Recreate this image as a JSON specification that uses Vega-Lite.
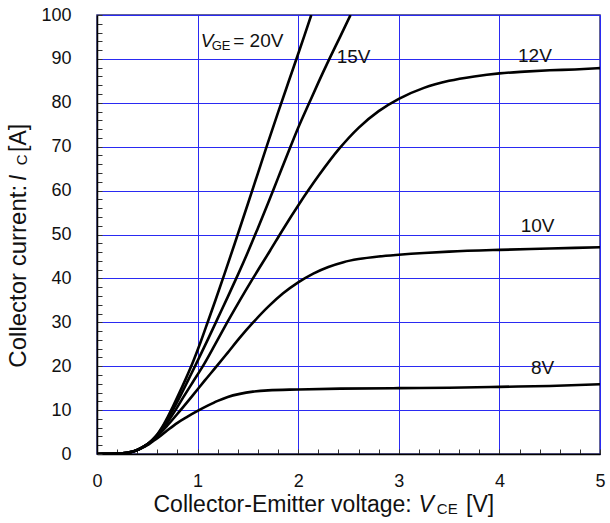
{
  "$schema": "https://vega.github.io/schema/vega-lite/v6.json",
  "width": 503,
  "height": 439,
  "autosize": {"type": "none"},
  "padding": {"left": 97, "top": 15, "right": 10, "bottom": 69},
  "background": "white",
  "config": {
    "font": "Liberation Sans",
    "view": {"stroke": "#2e2e78", "strokeWidth": 1.5},
    "text": {"font": "Liberation Sans", "color": "#111111"}
  },
  "resolve": {"axis": {"x": "independent", "y": "independent"}},
  "layer": [
    {
      "data": {"values": [
        {"g":"20V","v":0,"i":0},{"g":"20V","v":0.1,"i":0.05},{"g":"20V","v":0.2,"i":0.1},{"g":"20V","v":0.3,"i":0.3},{"g":"20V","v":0.35,"i":0.5},{"g":"20V","v":0.4,"i":0.9},{"g":"20V","v":0.45,"i":1.5},{"g":"20V","v":0.5,"i":2.2},{"g":"20V","v":0.55,"i":3.2},
        {"g":"20V","v":0.6,"i":4.5},{"g":"20V","v":0.65,"i":6.2},{"g":"20V","v":0.7,"i":8.3},{"g":"20V","v":0.75,"i":10.6},{"g":"20V","v":0.8,"i":13.0},{"g":"20V","v":0.88,"i":17.0},{"g":"20V","v":0.96,"i":21.3},{"g":"20V","v":1.03,"i":25.5},{"g":"20V","v":1.1,"i":30},{"g":"20V","v":1.18,"i":35.2},{"g":"20V","v":1.27,"i":41.2},{"g":"20V","v":1.37,"i":48},{"g":"20V","v":1.5,"i":57},{"g":"20V","v":1.6,"i":64},{"g":"20V","v":1.69,"i":70.3},{"g":"20V","v":1.8,"i":77.8},{"g":"20V","v":1.9,"i":84.5},{"g":"20V","v":1.99,"i":90.5},{"g":"20V","v":2.06,"i":95.2},{"g":"20V","v":2.13,"i":100},
        {"g":"15V","v":0,"i":0},{"g":"15V","v":0.1,"i":0.05},{"g":"15V","v":0.2,"i":0.1},{"g":"15V","v":0.3,"i":0.3},{"g":"15V","v":0.35,"i":0.5},{"g":"15V","v":0.4,"i":0.9},{"g":"15V","v":0.45,"i":1.5},{"g":"15V","v":0.5,"i":2.2},{"g":"15V","v":0.55,"i":3.2},
        {"g":"15V","v":0.6,"i":4.4},{"g":"15V","v":0.65,"i":6.0},{"g":"15V","v":0.7,"i":7.9},{"g":"15V","v":0.76,"i":10.3},{"g":"15V","v":0.83,"i":13.3},{"g":"15V","v":0.91,"i":17.0},{"g":"15V","v":1.0,"i":21.2},{"g":"15V","v":1.1,"i":26},{"g":"15V","v":1.2,"i":30.9},{"g":"15V","v":1.3,"i":35.8},{"g":"15V","v":1.4,"i":40.8},{"g":"15V","v":1.5,"i":46},{"g":"15V","v":1.6,"i":51.5},{"g":"15V","v":1.7,"i":57.1},{"g":"15V","v":1.8,"i":62.9},{"g":"15V","v":1.92,"i":69.8},{"g":"15V","v":2.0,"i":74.3},{"g":"15V","v":2.11,"i":80},{"g":"15V","v":2.2,"i":84.6},{"g":"15V","v":2.31,"i":90},{"g":"15V","v":2.42,"i":95.2},{"g":"15V","v":2.52,"i":100},
        {"g":"12V","v":0,"i":0},{"g":"12V","v":0.1,"i":0.05},{"g":"12V","v":0.2,"i":0.1},{"g":"12V","v":0.3,"i":0.3},{"g":"12V","v":0.35,"i":0.5},{"g":"12V","v":0.4,"i":0.9},{"g":"12V","v":0.45,"i":1.5},{"g":"12V","v":0.5,"i":2.2},{"g":"12V","v":0.55,"i":3.1},
        {"g":"12V","v":0.6,"i":4.2},{"g":"12V","v":0.65,"i":5.6},{"g":"12V","v":0.7,"i":7.2},{"g":"12V","v":0.78,"i":10},{"g":"12V","v":0.86,"i":13},{"g":"12V","v":0.95,"i":16.3},{"g":"12V","v":1.06,"i":20.3},{"g":"12V","v":1.17,"i":24.8},{"g":"12V","v":1.29,"i":29.8},{"g":"12V","v":1.42,"i":35},{"g":"12V","v":1.55,"i":40},{"g":"12V","v":1.72,"i":46.3},{"g":"12V","v":1.85,"i":51.2},{"g":"12V","v":2.0,"i":56.6},{"g":"12V","v":2.2,"i":63.3},{"g":"12V","v":2.41,"i":69.6},{"g":"12V","v":2.6,"i":74.3},{"g":"12V","v":2.8,"i":78.1},{"g":"12V","v":3.0,"i":80.9},{"g":"12V","v":3.25,"i":83.4},{"g":"12V","v":3.5,"i":85.0},{"g":"12V","v":3.75,"i":86.0},{"g":"12V","v":4.0,"i":86.7},{"g":"12V","v":4.25,"i":87.1},{"g":"12V","v":4.5,"i":87.4},{"g":"12V","v":4.75,"i":87.6},{"g":"12V","v":5.0,"i":87.9},
        {"g":"10V","v":0,"i":0},{"g":"10V","v":0.1,"i":0.05},{"g":"10V","v":0.2,"i":0.1},{"g":"10V","v":0.3,"i":0.3},{"g":"10V","v":0.35,"i":0.5},{"g":"10V","v":0.4,"i":0.9},{"g":"10V","v":0.45,"i":1.5},{"g":"10V","v":0.5,"i":2.2},{"g":"10V","v":0.55,"i":3.1},
        {"g":"10V","v":0.6,"i":4.1},{"g":"10V","v":0.7,"i":6.5},{"g":"10V","v":0.82,"i":9.7},{"g":"10V","v":0.95,"i":13.3},{"g":"10V","v":1.07,"i":16.7},{"g":"10V","v":1.19,"i":20},{"g":"10V","v":1.3,"i":23.1},{"g":"10V","v":1.42,"i":26.5},{"g":"10V","v":1.55,"i":29.9},{"g":"10V","v":1.7,"i":33.5},{"g":"10V","v":1.85,"i":36.6},{"g":"10V","v":2.0,"i":39.1},{"g":"10V","v":2.15,"i":41.1},{"g":"10V","v":2.3,"i":42.6},{"g":"10V","v":2.45,"i":43.7},{"g":"10V","v":2.6,"i":44.4},{"g":"10V","v":2.8,"i":45.0},{"g":"10V","v":3.0,"i":45.4},{"g":"10V","v":3.25,"i":45.8},{"g":"10V","v":3.5,"i":46.1},{"g":"10V","v":4.0,"i":46.5},{"g":"10V","v":4.5,"i":46.8},{"g":"10V","v":5.0,"i":47.1},
        {"g":"8V","v":0,"i":0},{"g":"8V","v":0.1,"i":0.05},{"g":"8V","v":0.2,"i":0.1},{"g":"8V","v":0.3,"i":0.3},{"g":"8V","v":0.35,"i":0.5},{"g":"8V","v":0.4,"i":0.9},{"g":"8V","v":0.45,"i":1.4},{"g":"8V","v":0.5,"i":2.0},{"g":"8V","v":0.55,"i":2.8},
        {"g":"8V","v":0.6,"i":3.6},{"g":"8V","v":0.7,"i":5.4},{"g":"8V","v":0.8,"i":7.1},{"g":"8V","v":0.9,"i":8.5},{"g":"8V","v":1.0,"i":9.8},{"g":"8V","v":1.1,"i":11},{"g":"8V","v":1.2,"i":12.1},{"g":"8V","v":1.3,"i":13},{"g":"8V","v":1.42,"i":13.7},{"g":"8V","v":1.55,"i":14.2},{"g":"8V","v":1.7,"i":14.5},{"g":"8V","v":2.0,"i":14.7},{"g":"8V","v":2.42,"i":14.9},{"g":"8V","v":3.0,"i":15.0},{"g":"8V","v":3.5,"i":15.1},{"g":"8V","v":4.0,"i":15.3},{"g":"8V","v":4.5,"i":15.5},{"g":"8V","v":5.0,"i":15.9}
      ]},
      "mark": {"type": "line", "color": "black", "strokeWidth": 2.6, "clip": true, "interpolate": "monotone"},
      "encoding": {
        "x": {"field": "v", "type": "quantitative", "scale": {"domain": [0, 5], "nice": false},
          "axis": {"orient": "bottom", "values": [0,0.2,0.4,0.6,0.8,1,1.2,1.4,1.6,1.8,2,2.2,2.4,2.6,2.8,3,3.2,3.4,3.6,3.8,4,4.2,4.4,4.6,4.8,5],
            "title": null, "labelExpr": "datum.value % 1 === 0 ? '' + datum.value : ''", "labelOverlap": false, "labelFlush": false, "labelBound": false,
            "labelPadding": 23, "labelFontSize": 18, "labelColor": "#111111", "labelFont": "Liberation Sans",
            "ticks": true, "tickSize": -5, "tickColor": "#333333", "tickWidth": 1,
            "grid": true, "gridColor": {"condition": {"test": "datum.value % 1 === 0", "value": "#2a2af2"}, "value": "transparent"}, "gridWidth": 1, "gridOpacity": 1,
            "domainColor": "#000000", "domainWidth": 1.5}},
        "y": {"field": "i", "type": "quantitative", "scale": {"domain": [0, 100], "nice": false},
          "axis": {"orient": "left", "values": [0,2,4,6,8,10,12,14,16,18,20,22,24,26,28,30,32,34,36,38,40,42,44,46,48,50,52,54,56,58,60,62,64,66,68,70,72,74,76,78,80,82,84,86,88,90,92,94,96,98,100],
            "title": null, "labelExpr": "datum.value % 10 === 0 ? '' + datum.value : ''", "labelOverlap": false, "labelFlush": false, "labelBound": false,
            "labelPadding": 31, "labelFontSize": 18, "labelColor": "#111111", "labelFont": "Liberation Sans",
            "ticks": true, "tickSize": -5, "tickColor": "#333333", "tickWidth": 1,
            "grid": true, "gridColor": {"condition": {"test": "datum.value % 10 === 0", "value": "#2a2af2"}, "value": "transparent"}, "gridWidth": 1, "gridOpacity": 1,
            "domainColor": "#000000", "domainWidth": 1.5}},
        "detail": {"field": "g", "type": "nominal"}
      }
    },
    {
      "data": {"values": [
        {"x": 1.354, "y": 92.8, "t": "= 20V"},
        {"x": 2.383, "y": 89.1, "t": "15V"},
        {"x": 4.185, "y": 89.2, "t": "12V"},
        {"x": 4.212, "y": 50.5, "t": "10V"},
        {"x": 4.314, "y": 18.2, "t": "8V"}
      ]},
      "mark": {"type": "text", "fontSize": 19, "align": "left", "baseline": "alphabetic"},
      "encoding": {
        "x": {"field": "x", "type": "quantitative", "scale": {"domain": [0, 5], "nice": false}, "axis": null},
        "y": {"field": "y", "type": "quantitative", "scale": {"domain": [0, 100], "nice": false}, "axis": null},
        "text": {"field": "t"}
      }
    },
    {
      "data": {"values": [{"x": 1.031, "y": 92.8, "t": "V"}]},
      "mark": {"type": "text", "fontSize": 19, "fontStyle": "italic", "align": "left", "baseline": "alphabetic"},
      "encoding": {
        "x": {"field": "x", "type": "quantitative", "scale": {"domain": [0, 5], "nice": false}, "axis": null},
        "y": {"field": "y", "type": "quantitative", "scale": {"domain": [0, 100], "nice": false}, "axis": null},
        "text": {"field": "t"}
      }
    },
    {
      "data": {"values": [{"x": 1.14, "y": 92.0, "t": "GE"}]},
      "mark": {"type": "text", "fontSize": 13, "align": "left", "baseline": "alphabetic"},
      "encoding": {
        "x": {"field": "x", "type": "quantitative", "scale": {"domain": [0, 5], "nice": false}, "axis": null},
        "y": {"field": "y", "type": "quantitative", "scale": {"domain": [0, 100], "nice": false}, "axis": null},
        "text": {"field": "t"}
      }
    },
    {
      "data": {"values": [{"x": 3.128, "y": -13.2, "t": "Collector-Emitter voltage:"}]},
      "mark": {"type": "text", "fontSize": 23, "align": "right", "baseline": "alphabetic"},
      "encoding": {
        "x": {"field": "x", "type": "quantitative", "scale": {"domain": [0, 5], "nice": false}, "axis": null},
        "y": {"field": "y", "type": "quantitative", "scale": {"domain": [0, 100], "nice": false}, "axis": null},
        "text": {"field": "t"}
      }
    },
    {
      "data": {"values": [{"x": 3.668, "y": -13.2, "t": "[V]"}]},
      "mark": {"type": "text", "fontSize": 23, "align": "left", "baseline": "alphabetic"},
      "encoding": {
        "x": {"field": "x", "type": "quantitative", "scale": {"domain": [0, 5], "nice": false}, "axis": null},
        "y": {"field": "y", "type": "quantitative", "scale": {"domain": [0, 100], "nice": false}, "axis": null},
        "text": {"field": "t"}
      }
    },
    {
      "data": {"values": [{"x": 3.195, "y": -13.2, "t": "V"}]},
      "mark": {"type": "text", "fontSize": 23, "fontStyle": "italic", "align": "left", "baseline": "alphabetic"},
      "encoding": {
        "x": {"field": "x", "type": "quantitative", "scale": {"domain": [0, 5], "nice": false}, "axis": null},
        "y": {"field": "y", "type": "quantitative", "scale": {"domain": [0, 100], "nice": false}, "axis": null},
        "text": {"field": "t"}
      }
    },
    {
      "data": {"values": [{"x": 3.378, "y": -13.6, "t": "CE"}]},
      "mark": {"type": "text", "fontSize": 15, "align": "left", "baseline": "alphabetic"},
      "encoding": {
        "x": {"field": "x", "type": "quantitative", "scale": {"domain": [0, 5], "nice": false}, "axis": null},
        "y": {"field": "y", "type": "quantitative", "scale": {"domain": [0, 100], "nice": false}, "axis": null},
        "text": {"field": "t"}
      }
    },
    {
      "data": {"values": [{"x": -0.706, "y": 61.3, "t": "Collector current:"}]},
      "mark": {"type": "text", "fontSize": 24, "angle": 270, "align": "right", "baseline": "alphabetic"},
      "encoding": {
        "x": {"field": "x", "type": "quantitative", "scale": {"domain": [0, 5], "nice": false}, "axis": null},
        "y": {"field": "y", "type": "quantitative", "scale": {"domain": [0, 100], "nice": false}, "axis": null},
        "text": {"field": "t"}
      }
    },
    {
      "data": {"values": [{"x": -0.706, "y": 68.8, "t": "[A]"}]},
      "mark": {"type": "text", "fontSize": 23, "angle": 270, "align": "left", "baseline": "alphabetic"},
      "encoding": {
        "x": {"field": "x", "type": "quantitative", "scale": {"domain": [0, 5], "nice": false}, "axis": null},
        "y": {"field": "y", "type": "quantitative", "scale": {"domain": [0, 100], "nice": false}, "axis": null},
        "text": {"field": "t"}
      }
    },
    {
      "data": {"values": [{"x": -0.706, "y": 62.2, "t": "I"}]},
      "mark": {"type": "text", "fontSize": 23, "fontStyle": "italic", "angle": 270, "align": "left", "baseline": "alphabetic"},
      "encoding": {
        "x": {"field": "x", "type": "quantitative", "scale": {"domain": [0, 5], "nice": false}, "axis": null},
        "y": {"field": "y", "type": "quantitative", "scale": {"domain": [0, 100], "nice": false}, "axis": null},
        "text": {"field": "t"}
      }
    },
    {
      "data": {"values": [{"x": -0.699, "y": 65.8, "t": "C"}]},
      "mark": {"type": "text", "fontSize": 15, "angle": 270, "align": "left", "baseline": "alphabetic"},
      "encoding": {
        "x": {"field": "x", "type": "quantitative", "scale": {"domain": [0, 5], "nice": false}, "axis": null},
        "y": {"field": "y", "type": "quantitative", "scale": {"domain": [0, 100], "nice": false}, "axis": null},
        "text": {"field": "t"}
      }
    }
  ]
}
